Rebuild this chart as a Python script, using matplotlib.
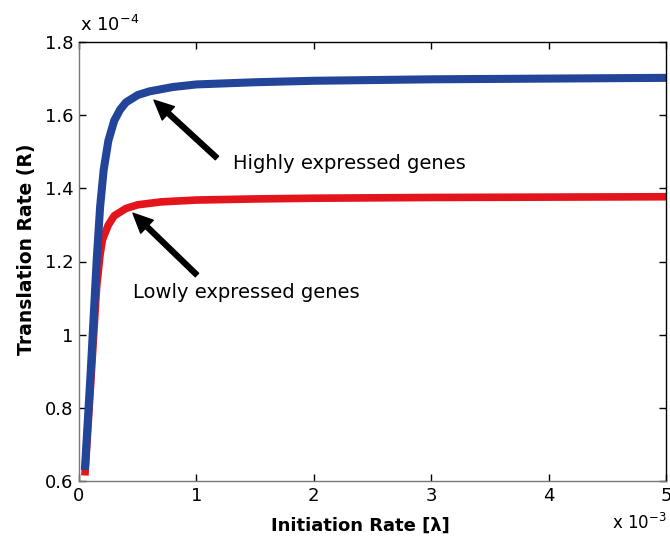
import matplotlib
matplotlib.use("Agg")
import matplotlib.pyplot as plt

plt.rcParams['font.family'] = ['DejaVu Sans']

# Data (x in units of 1e-3, y in units of 1e-4)
high_x = [0.05, 0.10, 0.15, 0.18, 0.21, 0.25, 0.30, 0.35, 0.40, 0.50, 0.60, 0.80, 1.0, 1.5, 2.0, 3.0, 4.0, 5.0]
high_y = [0.63, 0.90, 1.20, 1.35, 1.45, 1.53, 1.585, 1.615, 1.635, 1.655, 1.665, 1.677, 1.684, 1.690, 1.694, 1.698, 1.700, 1.702]
low_x = [0.05, 0.10, 0.15, 0.18, 0.20, 0.25, 0.30, 0.40, 0.50, 0.70, 1.0, 1.5, 2.0, 3.0, 4.0, 5.0]
low_y = [0.615, 0.87, 1.13, 1.22, 1.26, 1.30, 1.325, 1.345, 1.355, 1.363, 1.368, 1.371, 1.373, 1.375, 1.376, 1.377]

x_ticks = [0, 1, 2, 3, 4, 5]
x_tick_labels = ['0', '1', '2', '3', '4', '5']
y_ticks = [0.6, 0.8, 1.0, 1.2, 1.4, 1.6, 1.8]
y_tick_labels = ['0.6', '0.8', '1', '1.2', '1.4', '1.6', '1.8']

fig = plt.figure(figsize=(6.7, 5.44), dpi=100)
ax = fig.add_axes([79/670, 1-481/544, (666-79)/670, (481-42)/544])

ax.plot(low_x, low_y, color='#e3141c', lw=5.5, solid_capstyle='butt')
ax.plot(high_x, high_y, color='#22459a', lw=5.8, solid_capstyle='butt')

ax.set_xlim(0, 5)
ax.set_ylim(0.6, 1.8)
ax.set_xticks(x_ticks)
ax.set_xticklabels(x_tick_labels)
ax.set_yticks(y_ticks)
ax.set_yticklabels(y_tick_labels)
ax.tick_params(direction='in', length=5, width=1, top=True, right=True,
               labelsize=13, pad=4)
for s in ax.spines.values():
    s.set_linewidth(1.0)
ax.spines['left'].set_color('#777777')
ax.spines['bottom'].set_color('#777777')

ax.set_xlabel('Initiation Rate [λ]', fontsize=13, fontweight='bold')
ax.xaxis.set_label_coords((360-79)/587, -(517-481)/439)
ax.set_ylabel('Translation Rate (R)', fontsize=13.5, fontweight='bold')
ax.yaxis.set_label_coords(-(79-36)/587, (481-249)/439)

fig.text(80/670, 1-25/544, r'x 10$^{\mathregular{-4}}$', fontsize=13, ha='left', va='center')
fig.text(612/670, 1-523/544, r'x 10$^{\mathregular{-3}}$', fontsize=12, ha='left', va='center')

arrow = dict(facecolor='black', edgecolor='black', width=3.5, headwidth=13, headlength=14, shrink=0)
ax.annotate('', xy=(0.639, 1.641), xytext=(1.175, 1.483), arrowprops=arrow)
ax.annotate('', xy=(0.46, 1.332), xytext=(1.005, 1.163), arrowprops=arrow)
ax.text(1.312, 1.469, 'Highly expressed genes', fontsize=14, ha='left', va='center')
ax.text(0.46, 1.116, 'Lowly expressed genes', fontsize=14, ha='left', va='center')

fig.savefig('out.png', dpi=100)
